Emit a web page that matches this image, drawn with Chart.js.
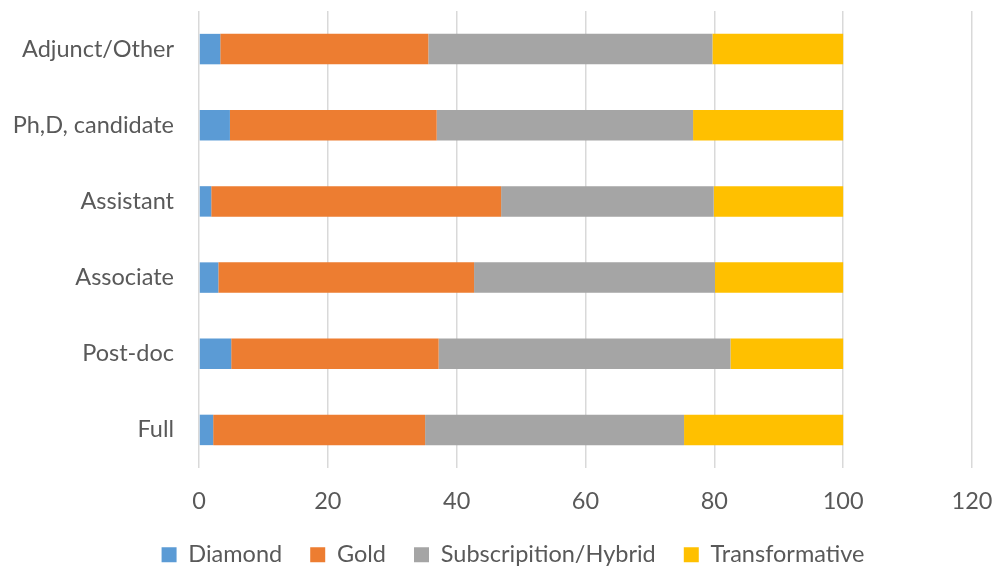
<!DOCTYPE html>
<html><head><meta charset="utf-8">
<script src="https://cdn.jsdelivr.net/npm/chart.js@4"></script>
<style>html,body{margin:0;padding:0;background:#fff}#w{width:992px;height:567px}</style>
</head><body><div id="w"><canvas id="c"></canvas></div>
<script>
const categories = ["Adjunct/Other","Ph,D, candidate","Assistant","Associate","Post-doc","Full"];
const diamond = [3.3, 4.8, 1.9, 3.0, 5.0, 2.2];
const gold = [32.3, 32.1, 45.0, 39.7, 32.2, 32.9];
const subscription = [44.1, 39.8, 33.0, 37.4, 45.3, 40.2];
const transformative = [20.3, 23.3, 20.1, 19.9, 17.5, 24.7];
const xTicks = [0,20,40,60,80,100,120];

const font = {family: "Lato, 'Open Sans', sans-serif", size: 23.5};
const mk = (label, data, color) => ({label, data, backgroundColor: color, borderWidth: 0, barPercentage: 0.4, categoryPercentage: 1});
const legendTweak = {
  id: 'legendTweak',
  beforeInit(chart) {
    const lg = chart.legend;
    const orig = lg.fit;
    lg.fit = function() { orig.call(this); this.height = 52; };
  },
  afterLayout(chart) {
    const lg = chart.legend;
    lg.left += 17; lg.right += 17;
  }
};
new Chart(document.getElementById('c'), {
  type: 'bar',
  data: {labels: categories, datasets: [
    mk('Diamond', diamond, '#5B9BD5'),
    mk('Gold', gold, '#ED7D31'),
    mk('Subscripition/Hybrid', subscription, '#A5A5A5'),
    mk('Transformative', transformative, '#FFC000')
  ]},
  plugins: [legendTweak],
  options: {
    indexAxis: 'y', responsive: true, maintainAspectRatio: false, animation: false,
    layout: {padding: {top: 11, right: 0, left: 0, bottom: 0}},
    plugins: {
      legend: {position: 'bottom', labels: {font, color: '#595959', boxWidth: 15, boxHeight: 15, padding: 28}},
      tooltip: {enabled: false}
    },
    scales: {
      x: {stacked: true, min: 0, max: 120,
          afterBuildTicks: s => { s.ticks = xTicks.map(v => ({value: v})); },
          afterFit: s => { s.height = 47; s.paddingLeft = 0; s.paddingRight = 20; },
          ticks: {font, color: '#595959', padding: 19},
          grid: {color: '#d9d9d9', lineWidth: 1.5, drawTicks: false},
          border: {display: false}},
      y: {stacked: true,
          afterFit: s => { s.width = 199; s.paddingTop = 0; s.paddingBottom = 0; },
          ticks: {font, color: '#595959', padding: 25},
          grid: {display: false, drawTicks: false},
          border: {display: false}}
    }
  }
});
</script></body></html>
